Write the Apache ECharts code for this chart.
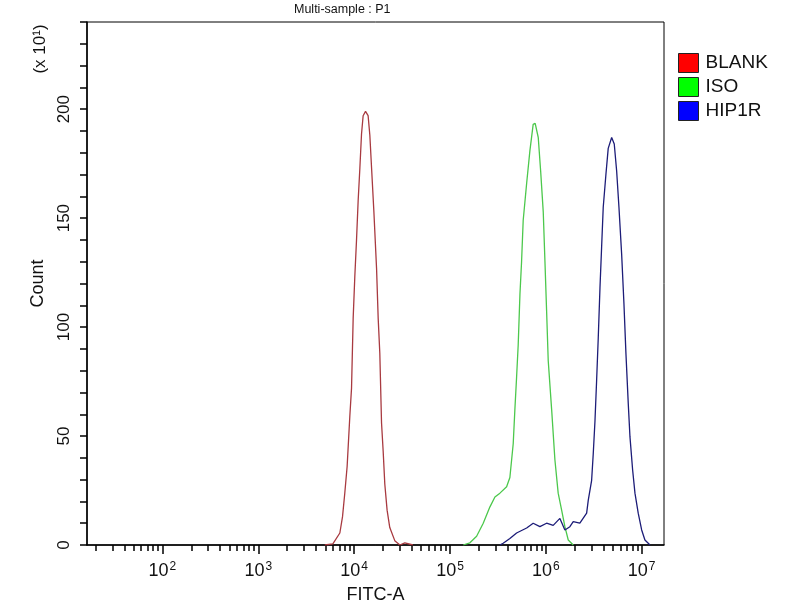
<!DOCTYPE html>
<html>
<head>
<meta charset="utf-8">
<title>Multi-sample : P1</title>
<script src="https://cdn.jsdelivr.net/npm/echarts@6/dist/echarts.min.js"></script>
<style>
  html, body { margin: 0; padding: 0; background: #fff; }
  #main { width: 800px; height: 600px; }
</style>
</head>
<body>
<div id="main"></div>
<script>
// FITC-A is stored as its decade exponent (log10), counts in units of 10
var decades = [2, 3, 4, 5, 6, 7];
var countLabels = [0, 50, 100, 150, 200];

var blankX = [3.694, 3.778, 3.851, 3.879, 3.903, 3.927, 3.955, 3.973, 3.990, 4.007, 4.025, 4.042, 4.060, 4.077, 4.094, 4.119,
              4.146, 4.164, 4.182, 4.206, 4.234, 4.251, 4.268, 4.286, 4.303, 4.320, 4.344, 4.372, 4.424, 4.477, 4.529, 4.613];
var blankY = [0, 0.5, 5.5, 13, 24, 36, 59, 72, 104, 123, 140, 158, 173, 188.5, 197, 199,
              197, 188, 173, 153, 127, 104, 88, 56, 43, 28, 16, 8, 2, 0, 1, 0];

var isoX = [5.138, 5.208, 5.278, 5.347, 5.417, 5.469, 5.521, 5.591, 5.625, 5.660, 5.677, 5.695, 5.712, 5.730, 5.747, 5.764,
            5.800, 5.834, 5.868, 5.889, 5.921, 5.946, 5.973, 5.991, 6.008, 6.025, 6.061, 6.095, 6.129, 6.165, 6.199, 6.234, 6.286];
var isoY = [0, 1, 4, 10, 17.5, 22, 23.8, 26.7, 31, 46.6, 62, 77, 92, 115, 130, 149,
            166, 181, 193, 193.5, 187, 171.6, 153, 130, 107.6, 84.7, 62, 39, 23.8, 16, 8.4, 2.3, 0];

var hip1rX = [5.521, 5.555, 5.625, 5.695, 5.800, 5.868, 5.938, 6.008, 6.077, 6.147, 6.199, 6.251, 6.286, 6.355, 6.426, 6.443,
              6.478, 6.495, 6.513, 6.530, 6.547, 6.565, 6.582, 6.599, 6.627, 6.651, 6.687, 6.714, 6.739, 6.763, 6.791, 6.815,
              6.836, 6.860, 6.878, 6.906, 6.930, 6.964, 7.000, 7.034, 7.087];
var hip1rY = [0, 0.8, 3, 5.5, 7.8, 10, 8.4, 10, 9, 12.2, 6.9, 8.4, 10.7, 10, 14.6, 20.6,
              29.7, 42, 57, 75.5, 95, 118, 136.5, 155, 170, 182, 187, 184, 171.6, 155, 133.6, 110.8,
              87.8, 65, 49.6, 34.3, 23.8, 14.6, 6.9, 2.3, 0];

var xMin = 1.213, xMax = 7.233;

function zip(xs, ys) {
    var out = [];
    for (var i = 0; i < xs.length; i++) out.push([xs[i], ys[i]]);
    return out;
}

// minor ticks at 2..9 x 10^n inside the axis range
var minorTicks = [];
for (var d = 1; d <= 7; d++) {
    for (var k = 2; k <= 9; k++) {
        var v = d + Math.log10(k);
        if (v > xMin && v < xMax) minorTicks.push(v);
    }
}

var font = '"Liberation Sans", Arial, sans-serif';
var myChart = echarts.init(document.getElementById('main'));

var option = {
    backgroundColor: '#fff',
    animation: false,
    title: {
        text: 'Multi-sample : P1',
        left: 289,
        top: -2,
        textStyle: { fontFamily: font, fontSize: 12.5, fontWeight: 'normal', color: '#111' }
    },
    legend: {
        orient: 'vertical',
        left: 678,
        top: 53,
        padding: 0,
        icon: 'rect',
        itemWidth: 20,
        itemHeight: 19,
        itemGap: 4,
        textStyle: { fontFamily: font, fontSize: 19, color: '#111', padding: [0, 0, 0, 2] },
        data: [
            { name: 'BLANK', itemStyle: { color: '#ff0000', borderColor: '#222', borderWidth: 1 } },
            { name: 'ISO', itemStyle: { color: '#00ff00', borderColor: '#222', borderWidth: 1 } },
            { name: 'HIP1R', itemStyle: { color: '#0000ff', borderColor: '#222', borderWidth: 1 } }
        ]
    },
    graphic: [{
        type: 'text',
        x: 40,
        y: 49,
        rotation: Math.PI / 2,
        style: {
            text: '(x 10¹)',
            font: '17px ' + font,
            fill: '#111',
            textAlign: 'center',
            textVerticalAlign: 'middle'
        }
    }],
    grid: {
        left: 87,
        right: 136,
        top: 22,
        bottom: 55,
        outerBoundsMode: 'none',
        containLabel: false,
        show: true,
        borderColor: '#000',
        borderWidth: 1
    },
    xAxis: [{
        type: 'value',
        position: 'bottom',
        min: xMin,
        max: xMax,
        name: 'FITC-A',
        nameLocation: 'middle',
        nameGap: 40,
        nameTextStyle: { fontFamily: font, fontSize: 18, color: '#111' },
        axisLine: { show: true, lineStyle: { color: '#000', width: 1.5 } },
        axisTick: { show: true, customValues: decades, length: 9, lineStyle: { color: '#000', width: 1.5 } },
        axisLabel: {
            customValues: decades,
            margin: 16,
            formatter: function (v) { return '{a|10}{b|' + Math.round(v) + '}'; },
            rich: {
                a: { fontFamily: font, fontSize: 18, color: '#111', lineHeight: 20 },
                b: { fontFamily: font, fontSize: 12, color: '#111', verticalAlign: 'top', lineHeight: 20, padding: [0, 0, 8, 1] }
            }
        },
        splitLine: { show: false }
    }, {
        type: 'value',
        position: 'bottom',
        min: xMin,
        max: xMax,
        axisLine: { show: false },
        axisTick: { show: true, customValues: minorTicks, length: 6, lineStyle: { color: '#000', width: 1.5 } },
        axisLabel: { show: false },
        splitLine: { show: false }
    }],
    yAxis: {
        type: 'value',
        min: 0,
        max: 240,
        interval: 10,
        name: 'Count',
        nameLocation: 'middle',
        nameGap: 40,
        nameTextStyle: { fontFamily: font, fontSize: 18, color: '#111' },
        axisLine: { show: true, lineStyle: { color: '#000', width: 1.5 } },
        axisTick: { show: true, length: 7, lineStyle: { color: '#000', width: 1.5 } },
        axisLabel: {
            customValues: countLabels,
            rotate: 90,
            margin: 14,
            fontFamily: font,
            fontSize: 17,
            color: '#111'
        },
        splitLine: { show: false }
    },
    series: [{
        name: 'BLANK',
        type: 'line',
        xAxisIndex: 0,
        showSymbol: false,
        lineStyle: { color: '#a83a40', width: 1.3 },
        itemStyle: { color: '#a83a40' },
        data: zip(blankX, blankY)
    }, {
        name: 'ISO',
        type: 'line',
        xAxisIndex: 0,
        showSymbol: false,
        lineStyle: { color: '#4cc84c', width: 1.3 },
        itemStyle: { color: '#4cc84c' },
        data: zip(isoX, isoY)
    }, {
        name: 'HIP1R',
        type: 'line',
        xAxisIndex: 0,
        showSymbol: false,
        lineStyle: { color: '#1c1c78', width: 1.3 },
        itemStyle: { color: '#1c1c78' },
        data: zip(hip1rX, hip1rY)
    }]
};

myChart.setOption(option);
</script>
</body>
</html>
